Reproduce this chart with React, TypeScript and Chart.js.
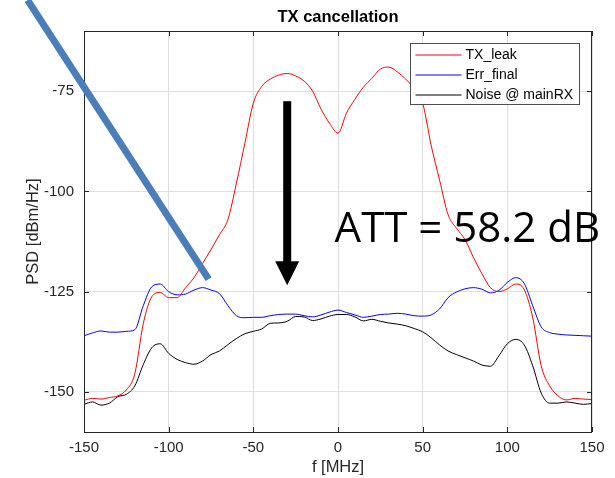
import React, { useEffect, useRef } from 'react';
import { Chart, registerables } from 'chart.js';

Chart.register(...registerables);

// ---------- data ----------
const FREQ_MHZ = [
  -150, -145, -140, -135, -130, -125, -120, -115, -110, -105,
  -100, -95, -90, -85, -80, -75, -70, -65, -60, -55,
  -50, -45, -40, -35, -30, -25, -20, -15, -10, -5,
  0, 5, 10, 15, 20, 25, 30, 35, 40, 45,
  50, 55, 60, 65, 70, 75, 80, 85, 90, 95,
  100, 105, 110, 115, 120, 125, 130, 135, 140, 145, 150,
];

const TX_LEAK = [
  -152.1, -151.6, -151.8, -151.4, -151.0, -149.5, -145.5, -133.0, -126.3, -125.2,
  -126.5, -126.5, -124.0, -121.5, -118.0, -114.5, -110.8, -107.0, -98.0, -88.0,
  -78.0, -73.8, -72.0, -71.0, -70.6, -71.2, -72.5, -75.0, -79.5, -83.0,
  -85.5, -80.5, -77.0, -74.0, -71.8, -69.5, -69.0, -70.2, -72.0, -74.5,
  -78.0, -88.5, -97.2, -105.8, -109.2, -112.0, -116.5, -120.5, -124.0, -125.0,
  -124.3, -123.1, -124.5, -131.5, -143.5, -148.5, -151.0, -152.0, -151.6, -151.8, -151.9,
];

const ERR_FINAL = [
  -136.0, -135.3, -134.8, -135.1, -135.1, -134.9, -134.5, -128.5, -123.8, -123.1,
  -125.0, -125.8, -125.6, -124.6, -124.0, -124.6, -125.5, -128.5, -131.0, -131.5,
  -131.4, -131.4, -131.0, -130.7, -130.6, -130.6, -131.0, -131.3, -130.8, -130.1,
  -129.6, -130.2, -130.8, -131.4, -131.1, -130.7, -130.6, -130.4, -130.6, -131.0,
  -131.1, -130.8, -129.3, -126.5, -125.1, -124.3, -124.0, -124.4, -125.3, -124.7,
  -122.7, -121.5, -123.0, -128.5, -133.8, -135.2, -135.6, -135.8, -135.9, -136.0, -136.1,
];

const NOISE_MAINRX = [
  -153.1, -152.5, -153.3, -152.8, -151.2, -150.6, -148.5, -143.2, -139.0, -138.0,
  -140.4, -141.9, -142.7, -143.1, -142.3, -140.7, -139.8, -138.2, -136.7, -135.5,
  -134.9, -134.3, -132.9, -132.8, -132.4, -131.2, -131.3, -132.2, -131.8, -131.1,
  -130.7, -130.7, -131.3, -132.3, -131.9, -132.4, -132.8, -133.1, -133.5, -134.2,
  -135.0, -136.5, -138.3, -139.8, -140.7, -141.5, -142.3, -143.3, -143.6, -141.0,
  -138.0, -136.9, -138.3, -143.5, -150.3, -152.8, -152.8, -152.5, -152.8, -153.1, -152.9,
];

const SERIES_LABELS = ['TX_leak', 'Err_final', 'Noise @ mainRX'];
const SERIES_COLORS = ['#ff0000', '#0000ff', '#000000'];

const X_TICKS = [-150, -100, -50, 0, 50, 100, 150];
const Y_TICKS = [-150, -125, -100, -75];
const X_MIN = -150;
const X_MAX = 150;
const Y_MIN = -160;
const Y_MAX = -60;

const TITLE = 'TX cancellation';
const X_TITLE = 'f [MHz]';
const Y_TITLE = 'PSD [dBm/Hz]';

// annotation anchors in data units
const SLASH_LINE = [-183.3, -52.3, -76.4, -121.9];
const ARROW_X = -30;
const ARROW_TOP = -77.5;
const ARROW_HEAD_BASE = -117.4;
const ARROW_TIP = -123.4;
const ATT_TEXT = 'ATT = 58.2 dB';
const ATT_X = -2;
const ATT_Y = -112.6;

const AXIS_COLOR = '#262626';
const GRID_COLOR = '#dedede';
const FONT = '"Liberation Sans", Arial, Helvetica, sans-serif';

const decorPlugin = {
  id: 'decor',
  afterDatasetsDraw(chart: any) {
    const { ctx, chartArea: a, scales } = chart;
    const xs = scales.x;
    const ys = scales.y;
    ctx.save();
    // box
    ctx.strokeStyle = AXIS_COLOR;
    ctx.lineWidth = 1;
    ctx.strokeRect(Math.round(a.left) + 0.5, Math.round(a.top) + 0.5, Math.round(a.right - a.left) - 1, Math.round(a.bottom - a.top));
    // inward ticks
    const tl = 5;
    ctx.beginPath();
    X_TICKS.forEach((v) => {
      const px = Math.round(xs.getPixelForValue(v)) + 0.5;
      ctx.moveTo(px, a.bottom);
      ctx.lineTo(px, a.bottom - tl);
      ctx.moveTo(px, a.top);
      ctx.lineTo(px, a.top + tl);
    });
    Y_TICKS.forEach((v) => {
      const py = Math.round(ys.getPixelForValue(v)) + 0.5;
      ctx.moveTo(a.left, py);
      ctx.lineTo(a.left + tl, py);
      ctx.moveTo(a.right, py);
      ctx.lineTo(a.right - tl, py);
    });
    ctx.stroke();

    // titles
    ctx.fillStyle = '#000';
    ctx.font = `bold 16.5px ${FONT}`;
    ctx.textAlign = 'center';
    ctx.textBaseline = 'middle';
    ctx.fillText(TITLE, (a.left + a.right) / 2, 17);
    ctx.fillStyle = AXIS_COLOR;
    ctx.font = `16.5px ${FONT}`;
    ctx.fillText(X_TITLE, (a.left + a.right) / 2, 467);
    ctx.save();
    ctx.translate(33, (a.top + a.bottom) / 2);
    ctx.rotate(-Math.PI / 2);
    ctx.fillText(Y_TITLE, 0, 0);
    ctx.restore();

    // legend
    const lw = 169;
    const lh = 61;
    const lx = Math.round(a.right - 13 - lw) + 0.5;
    const ly = Math.round(a.top + 12) + 0.5;
    ctx.fillStyle = '#fff';
    ctx.fillRect(lx, ly, lw, lh);
    ctx.strokeStyle = '#4d4d4d';
    ctx.lineWidth = 1;
    ctx.strokeRect(lx, ly, lw, lh);
    ctx.textAlign = 'left';
    ctx.font = `14px ${FONT}`;
    SERIES_LABELS.forEach((label, i) => {
      const ry = Math.round(ly + 11 + i * 20);
      ctx.strokeStyle = SERIES_COLORS[i];
      ctx.lineWidth = 1;
      ctx.beginPath();
      ctx.moveTo(lx + 5, ry);
      ctx.lineTo(lx + 51, ry);
      ctx.stroke();
      ctx.fillStyle = '#000';
      ctx.fillText(label, lx + 55, ry);
    });

    // ATT text
    ctx.fillStyle = '#000';
    ctx.font = `42px "Open Sans", sans-serif`;
    ctx.textBaseline = 'alphabetic';
    ctx.fillText(ATT_TEXT, xs.getPixelForValue(ATT_X), ys.getPixelForValue(ATT_Y));

    // arrow
    const ax = xs.getPixelForValue(ARROW_X);
    const aTop = ys.getPixelForValue(ARROW_TOP);
    const aBase = ys.getPixelForValue(ARROW_HEAD_BASE);
    const aTip = ys.getPixelForValue(ARROW_TIP);
    ctx.fillStyle = '#000';
    ctx.fillRect(ax - 4, aTop, 8, aBase - aTop + 1);
    ctx.beginPath();
    ctx.moveTo(ax - 12, aBase);
    ctx.lineTo(ax + 12, aBase);
    ctx.lineTo(ax, aTip);
    ctx.closePath();
    ctx.fill();

    // slash line
    ctx.strokeStyle = '#4a7ebb';
    ctx.lineWidth = 7;
    ctx.lineCap = 'butt';
    ctx.beginPath();
    ctx.moveTo(xs.getPixelForValue(SLASH_LINE[0]), ys.getPixelForValue(SLASH_LINE[1]));
    ctx.lineTo(xs.getPixelForValue(SLASH_LINE[2]), ys.getPixelForValue(SLASH_LINE[3]));
    ctx.stroke();
    ctx.restore();
  },
};

export default function App() {
  const canvasRef = useRef<HTMLCanvasElement>(null);

  useEffect(() => {
    document.body.style.margin = '0';
    const canvas = canvasRef.current;
    if (!canvas) return;
    const mk = (vals: number[]) => FREQ_MHZ.map((f, i) => ({ x: f, y: vals[i] }));
    const seriesValues = [TX_LEAK, ERR_FINAL, NOISE_MAINRX];
    const chart = new Chart(canvas, {
      type: 'line',
      data: {
        datasets: seriesValues.map((vals, i) => ({
          label: SERIES_LABELS[i],
          data: mk(vals),
          borderColor: SERIES_COLORS[i],
          backgroundColor: SERIES_COLORS[i],
          borderWidth: 1,
          pointRadius: 0,
          cubicInterpolationMode: 'monotone' as const,
          fill: false,
        })),
      },
      options: {
        animation: false,
        responsive: false,
        layout: { padding: { top: 31, right: 23, left: 0, bottom: 0 } },
        plugins: {
          legend: { display: false },
          title: { display: false },
          tooltip: { enabled: false },
        },
        scales: {
          x: {
            type: 'linear',
            min: X_MIN,
            max: X_MAX,
            afterBuildTicks: (s: any) => {
              s.ticks = X_TICKS.map((v) => ({ value: v }));
            },
            afterFit: (s: any) => {
              s.height = 46;
            },
            grid: { color: GRID_COLOR, drawTicks: false },
            border: { display: false },
            ticks: {
              padding: 7,
              color: AXIS_COLOR,
              font: { family: FONT, size: 15 },
              maxRotation: 0,
              autoSkip: false,
            },
          },
          y: {
            type: 'linear',
            min: Y_MIN,
            max: Y_MAX,
            afterBuildTicks: (s: any) => {
              s.ticks = Y_TICKS.map((v) => ({ value: v }));
            },
            afterFit: (s: any) => {
              s.width = 84;
            },
            grid: { color: GRID_COLOR, drawTicks: false },
            border: { display: false },
            ticks: {
              padding: 10,
              color: AXIS_COLOR,
              font: { family: FONT, size: 15 },
              autoSkip: false,
            },
          },
        },
      },
      plugins: [decorPlugin],
    });
    return () => chart.destroy();
  }, []);

  return (
    <div style={{ width: 615, height: 478 }}>
      <canvas ref={canvasRef} width={615} height={478} style={{ display: 'block' }} />
    </div>
  );
}
